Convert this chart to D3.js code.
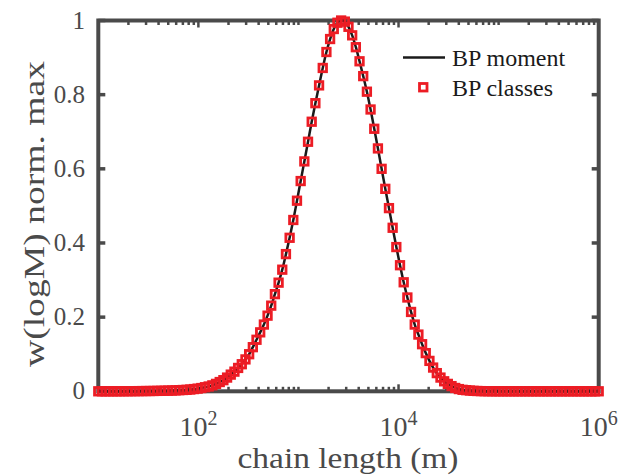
<!DOCTYPE html>
<html>
<meta charset="utf-8">
<style>
 body { margin: 0; background: #fff; }
 .tick_text { font-family: "Liberation Serif", "Times New Roman", serif; fill: #4a4a4a; }
 .legend_text { font-family: "Liberation Serif", "Times New Roman", serif; font-size: 24px; fill: #1a1a1a; }
</style>
<body>
<script src="https://d3js.org/d3.v7.min.js"></script>
<script>

var width = 620
var height = 475

// normalised w(logM), one value per class, classes evenly spaced in log from 10^1 to 10^6
var classValues = [
  0, 0, 0, 0, 0, 0, 0.0001, 0.0002, 0.0002, 0.0003,
  0.0004, 0.0005, 0.0006, 0.0007, 0.0008, 0.0009, 0.0011, 0.0013, 0.0015, 0.0018,
  0.0021, 0.0025, 0.003, 0.0035, 0.004, 0.0048, 0.006, 0.0072, 0.0088, 0.011,
  0.013, 0.016, 0.020, 0.025, 0.030, 0.037, 0.045, 0.053, 0.063, 0.073,
  0.086, 0.100, 0.119, 0.139, 0.159, 0.180, 0.204, 0.231, 0.262, 0.293,
  0.328, 0.370, 0.414, 0.462, 0.514, 0.567, 0.620, 0.673, 0.727, 0.777,
  0.825, 0.872, 0.915, 0.950, 0.977, 0.994, 1.0, 0.997, 0.983, 0.960,
  0.928, 0.890, 0.850, 0.808, 0.760, 0.708, 0.655, 0.600, 0.546, 0.494,
  0.441, 0.389, 0.340, 0.294, 0.253, 0.214, 0.180, 0.153, 0.127, 0.103,
  0.082, 0.064, 0.049, 0.037, 0.027, 0.020, 0.014, 0.009, 0.006, 0.004,
  0.003, 0.002, 0.0012, 0.0008, 0.0005, 0.0003, 0.0002, 0.0001, 0, 0,
  0, 0, 0, 0, 0, 0, 0, 0, 0, 0,
  0, 0, 0, 0, 0, 0, 0, 0, 0, 0,
  0, 0, 0, 0, 0, 0, 0
];

var xTickExponents = [2, 4, 6];
var yTicks = [0, 0.2, 0.4, 0.6, 0.8, 1];
var yTickLabels = ["0", "0.2", "0.4", "0.6", "0.8", "1"];
var legendLabels = ["BP moment", "BP classes"];

var nClasses = classValues.length;
var data = classValues.map(function (v, i) {
  return { m: Math.pow(10, 1 + i * 5 / (nClasses - 1)), w: v };
});

var axisColor = "#4a4a4a";
var red = "#ec1c24";

var svg = d3.select("body")
  .append("svg")
  .attr("width", width)
  .attr("height", height);

var x = d3.scaleLog().domain([10, 1e6]).range([98.3, 598.7]);
var y = d3.scaleLinear().domain([0, 1]).range([391.3, 20.5]);

// box
svg.append("rect")
  .attr("x", x.range()[0])
  .attr("y", y.range()[1])
  .attr("width", x.range()[1] - x.range()[0])
  .attr("height", y.range()[0] - y.range()[1])
  .attr("fill", "none")
  .attr("stroke", axisColor)
  .attr("stroke-width", 4);

// log ticks top and bottom
var minorTicks = [];
for (var k = 1; k < 6; k++) {
  for (var j = 1; j < 10; j++) {
    if (j == 1 && k == 1) continue;
    minorTicks.push(j * Math.pow(10, k));
  }
}
var tickG = svg.append("g").attr("stroke", axisColor);
minorTicks.forEach(function (t) {
  var major = xTickExponents.indexOf(Math.round(Math.log10(t))) >= 0 && Math.abs(Math.log10(t) % 1) < 1e-9;
  var len = major ? 7 : 4.5;
  tickG.append("line")
    .attr("x1", x(t)).attr("x2", x(t))
    .attr("y1", y(0)).attr("y2", y(0) - len)
    .attr("stroke-width", 2.5);
  tickG.append("line")
    .attr("x1", x(t)).attr("x2", x(t))
    .attr("y1", y(1)).attr("y2", y(1) + len)
    .attr("stroke-width", 2.5);
});

yTicks.forEach(function (t) {
  tickG.append("line")
    .attr("x1", x(10)).attr("x2", x(10) + 7)
    .attr("y1", y(t)).attr("y2", y(t))
    .attr("stroke-width", 3.5);
  tickG.append("line")
    .attr("x1", x(1e6)).attr("x2", x(1e6) - 7)
    .attr("y1", y(t)).attr("y2", y(t))
    .attr("stroke-width", 3.5);
});

// y tick labels
svg.selectAll(".ylab")
  .data(yTicks)
  .enter()
  .append("text")
    .attr("class", "tick_text")
    .attr("text-anchor", "end")
    .attr("font-size", "25px")
    .attr("x", 85)
    .attr("y", function (d) { return y(d) + 8; })
    .text(function (d, i) { return yTickLabels[i]; });

// x tick labels 10^n
xTickExponents.forEach(function (e) {
  var t = svg.append("text")
    .attr("class", "tick_text")
    .attr("text-anchor", "middle")
    .attr("font-size", "28px")
    .attr("x", x(Math.pow(10, e)))
    .attr("y", 436);
  t.append("tspan").text("10");
  t.append("tspan").attr("font-size", "20px").attr("dy", -11).text(e);
});

// axis titles
svg.append("text")
  .attr("class", "tick_text")
  .attr("text-anchor", "middle")
  .attr("font-size", "29px")
  .attr("x", 348)
  .attr("y", 468)
  .attr("textLength", 221)
  .attr("lengthAdjust", "spacingAndGlyphs")
  .text("chain length (m)");

svg.append("text")
  .attr("class", "tick_text")
  .attr("text-anchor", "middle")
  .attr("font-size", "30px")
  .attr("transform", "translate(44,214) rotate(-90)")
  .attr("textLength", 306)
  .attr("lengthAdjust", "spacingAndGlyphs")
  .text("w(logM) norm. max");

// BP moment line
var line = d3.line()
  .x(function (d) { return x(d.m); })
  .y(function (d) { return y(d.w); })
  .curve(d3.curveCatmullRom);

svg.append("path")
  .datum(data)
  .attr("fill", "none")
  .attr("stroke", "#1a1a1a")
  .attr("stroke-width", 2.5)
  .attr("d", line);

// BP classes markers
svg.selectAll(".marker")
  .data(data)
  .enter()
  .append("rect")
    .attr("class", "marker")
    .attr("x", function (d) { return x(d.m) - 3.75; })
    .attr("y", function (d) { return y(d.w) - 3.75; })
    .attr("width", 7.5)
    .attr("height", 7.5)
    .attr("fill", "none")
    .attr("stroke", red)
    .attr("stroke-width", 2.8);

// legend
svg.append("line")
  .attr("x1", 403).attr("x2", 445)
  .attr("y1", 57.5).attr("y2", 57.5)
  .attr("stroke", "#1a1a1a")
  .attr("stroke-width", 2.5);
svg.append("rect")
  .attr("x", 419.5).attr("y", 83.5)
  .attr("width", 7.5).attr("height", 7.5)
  .attr("fill", "none")
  .attr("stroke", red)
  .attr("stroke-width", 2.8);

svg.selectAll(".legend_text")
  .data(legendLabels)
  .enter()
  .append("text")
    .attr("class", "legend_text")
    .attr("x", 452)
    .attr("y", function (d, i) { return 66 + i * 30; })
    .text(function (d) { return d; });

</script>
</body>
</html>
